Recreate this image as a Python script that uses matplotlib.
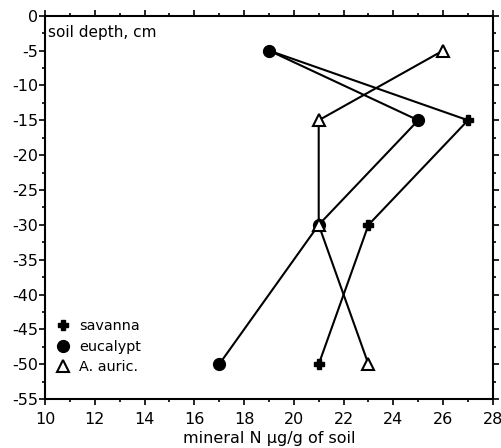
import numpy as np
import matplotlib.pyplot as plt
from matplotlib.ticker import MultipleLocator

# depth (cm) and mineral N (ug/g of soil)
depth = [-5, -15, -30, -50]
savanna = [19, 27, 23, 21]
eucalypt = [19, 25, 21, 17]
auric = [26, 21, 21, 23]

plt.rcParams['font.family'] = ['DejaVu Sans']
plt.rcParams['axes.unicode_minus'] = False

fig = plt.figure(figsize=(5.01, 4.48), dpi=100)
ax = fig.add_axes([0.0898, 0.109, 0.894, 0.856])

ax.plot(savanna, depth, color='black', lw=1.5, marker='P', ms=7,
        mfc='black', mec='black', label='savanna', zorder=3)
ax.plot(eucalypt, depth, color='black', lw=1.5, marker='o', ms=8.5,
        mfc='black', mec='black', label='eucalypt', zorder=4)
ax.plot(auric, depth, color='black', lw=1.5, marker='^', ms=8.5,
        mfc='white', mec='black', mew=1.5, label='A. auric.', zorder=5)

ax.set_xlim(10, 28)
ax.set_ylim(-55, 0)
ax.xaxis.set_major_locator(MultipleLocator(2))
ax.xaxis.set_minor_locator(MultipleLocator(1))
ax.yaxis.set_major_locator(MultipleLocator(5))
ax.yaxis.set_minor_locator(MultipleLocator(2.5))
ax.tick_params(which='both', direction='out', top=True, right=True,
               labelsize=11.5, width=1.2)
ax.tick_params(which='major', length=4)
ax.tick_params(which='minor', length=2)
ax.tick_params(axis='x', pad=5)
ax.tick_params(axis='y', pad=1)
for s in ax.spines.values():
    s.set_linewidth(1.5)

ax.set_xlabel('mineral N µg/g of soil', fontsize=11.5, labelpad=3)
ax.text(0.006, 0.975, 'soil depth, cm', transform=ax.transAxes,
        ha='left', va='top', fontsize=11)

leg = ax.legend(loc='lower left', frameon=False, fontsize=10.4,
                handlelength=1.0, handletextpad=0.6, labelspacing=0.45,
                borderpad=0, borderaxespad=0, bbox_to_anchor=(0.024, 0.065))
for h in leg.legend_handles:
    h.set_linestyle('none')

fig.savefig('out.png', dpi=100)
